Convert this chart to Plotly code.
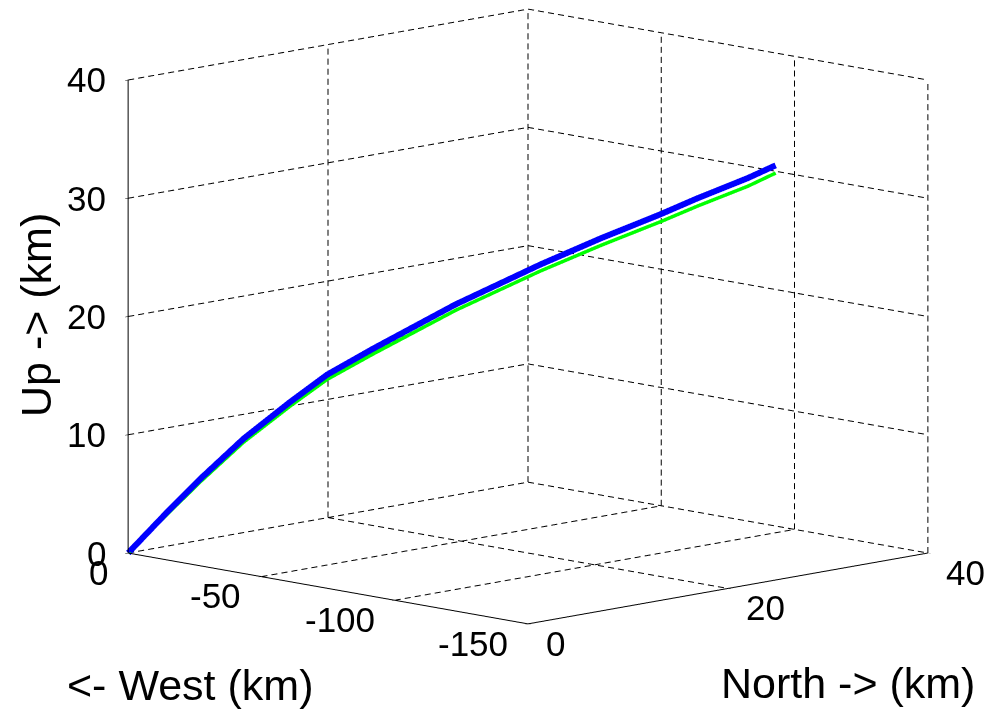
import plotly.graph_objects as go

# Trajectory data (km)
east_km = [0, -8.4, -14.4, -23.0, -32.4, -39.7, -48.9, -65.3, -82.3, -94.3, -106.2, -113.6, -123.6, -129.2]
north_km = [0, 1.97, 3.38, 5.40, 7.60, 9.32, 11.48, 15.33, 19.32, 22.13, 24.93, 26.66, 29.01, 30.32]
up_blue_km = [0, 3.77, 6.34, 9.77, 12.95, 15.27, 17.52, 21.33, 24.80, 27.06, 29.15, 30.54, 32.29, 33.40]
up_green_km = [0, 3.57, 6.09, 9.47, 12.60, 14.87, 17.07, 20.83, 24.25, 26.46, 28.52, 29.88, 31.60, 32.75]

# Axis ticks
x_ticks = [0, -50, -100, -150]
y_ticks = [0, 20, 40]
z_ticks = [0, 10, 20, 30, 40]
x_title = "<- West (km)"
y_title = "North -> (km)"
z_title = "Up -> (km)"

FONT = "Liberation Sans, Arial, sans-serif"
TICK_SIZE = 35
TITLE_SIZE = 43

x0, x1 = x_ticks[0], x_ticks[-1]
y0, y1 = y_ticks[0], y_ticks[-1]
z0, z1 = z_ticks[0], z_ticks[-1]

# dashed grid on the back walls and floor, built from the tick values
gx, gy, gz = [], [], []


def dashed(a, b, periods):
    for k in range(periods):
        t0 = k / periods
        t1 = (k + 0.6) / periods
        for t in (t0, t1):
            gx.append(a[0] + (b[0] - a[0]) * t)
            gy.append(a[1] + (b[1] - a[1]) * t)
            gz.append(a[2] + (b[2] - a[2]) * t)
        gx.append(None)
        gy.append(None)
        gz.append(None)


NX, NY, NZ = 40, 40, 47  # dash periods along x, y and z lines
# wall x = 0
for yv in y_ticks:
    dashed((x0, yv, z0), (x0, yv, z1), NZ)
for zv in z_ticks:
    dashed((x0, y0, zv), (x0, y1, zv), NY)
# wall y = max
for xv in x_ticks:
    dashed((xv, y1, z0), (xv, y1, z1), NZ)
for zv in z_ticks:
    dashed((x0, y1, zv), (x1, y1, zv), NX)
# floor
for xv in x_ticks[:-1]:
    dashed((xv, y0, z0), (xv, y1, z0), NY)
for yv in y_ticks[1:]:
    dashed((x0, yv, z0), (x1, yv, z0), NX)

fig = go.Figure()
fig.add_trace(go.Scatter3d(x=gx, y=gy, z=gz, mode="lines",
                           line=dict(color="#000000", width=2),
                           hoverinfo="skip", showlegend=False))
fig.add_trace(go.Scatter3d(x=east_km, y=north_km, z=up_blue_km, mode="lines",
                           line=dict(color="#0000FF", width=12), showlegend=False))
fig.add_trace(go.Scatter3d(x=east_km, y=north_km, z=up_green_km, mode="lines",
                           line=dict(color="#00FF00", width=7), showlegend=False))

axis_common = dict(showgrid=False, zeroline=False, showline=True, linecolor="black",
                   linewidth=2, ticks="outside", ticklen=4, tickcolor="black",
                   showticklabels=False,
                   showbackground=False, showspikes=False,
                   title=dict(text=""))

tick_font = dict(family=FONT, size=TICK_SIZE, color="black")
scene_ann = []
for xv in x_ticks:
    scene_ann.append(dict(x=xv, y=y0, z=z0, text=str(xv), showarrow=False,
                          xanchor="right", yanchor="middle", xshift=-18, yshift=-19,
                          font=tick_font))
for yv in y_ticks:
    scene_ann.append(dict(x=x1, y=yv, z=z0, text=str(yv), showarrow=False,
                          xanchor="left", yanchor="middle", xshift=16, yshift=-19,
                          font=tick_font))
for zv in z_ticks:
    scene_ann.append(dict(x=x0, y=y0, z=zv, text=str(zv), showarrow=False,
                          xanchor="right", yanchor="middle", xshift=-20, yshift=0,
                          font=tick_font))

fig.update_layout(
    width=988, height=709,
    paper_bgcolor="white",
    margin=dict(l=0, r=0, t=0, b=0),
    showlegend=False,
    scene=dict(
        domain=dict(x=[0.0688, 1.0], y=[0.1183, 0.9888]),
        xaxis=dict(range=[x0, x1], autorange=False, tickvals=x_ticks, **axis_common),
        yaxis=dict(range=[y0, y1], autorange=False, tickvals=y_ticks, **axis_common),
        zaxis=dict(range=[z0, z1], autorange=False, tickvals=z_ticks, **axis_common),
        aspectmode="manual",
        aspectratio=dict(x=1.833, y=1.833, z=1.558),
        camera=dict(projection=dict(type="orthographic"),
                    eye=dict(x=1.39, y=-1.39, z=0.354),
                    up=dict(x=0, y=0, z=1), center=dict(x=0, y=0, z=0)),
        annotations=scene_ann,
    ),
    annotations=[
        dict(text=x_title, x=190 / 988, y=1 - 685 / 709, xref="paper", yref="paper",
             xanchor="center", yanchor="middle",
             showarrow=False, font=dict(family=FONT, size=TITLE_SIZE, color="black")),
        dict(text=y_title, x=848 / 988, y=1 - 683 / 709, xref="paper", yref="paper",
             xanchor="center", yanchor="middle",
             showarrow=False, font=dict(family=FONT, size=TITLE_SIZE, color="black")),
        dict(text=z_title, x=36 / 988, y=1 - 315 / 709, xref="paper", yref="paper",
             xanchor="center", yanchor="middle",
             showarrow=False, textangle=-90,
             font=dict(family=FONT, size=TITLE_SIZE, color="black")),
    ],
)

fig.write_html("out.html",
               config={"displayModeBar": False},
               post_script="document.body.style.margin='0px';"
                           "document.body.style.overflow='hidden';")
